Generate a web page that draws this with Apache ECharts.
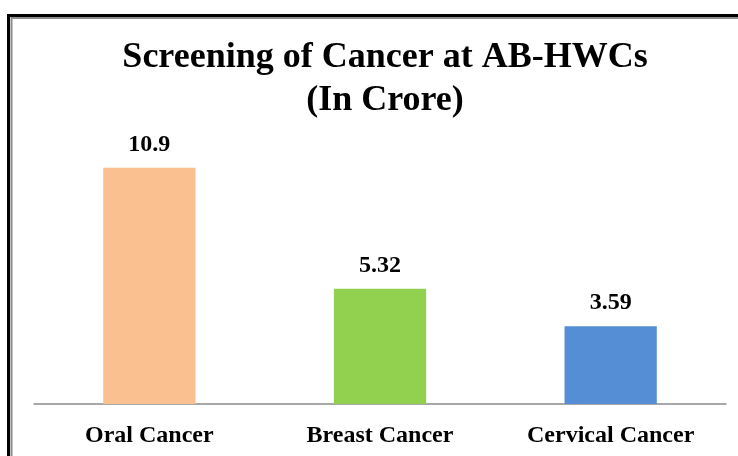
<!DOCTYPE html>
<html><head><meta charset="utf-8">
<script src="https://cdn.jsdelivr.net/npm/echarts@6/dist/echarts.min.js"></script>
<style>html,body{margin:0;padding:0;background:#fff}#c{width:738px;height:456px}</style>
</head><body><div id="c"></div>
<script>
const categories = ["Oral Cancer", "Breast Cancer", "Cervical Cancer"];
const values = [10.9, 5.32, 3.59];
const barColors = ["#FAC090", "#92D050", "#558ED5"];
const titleLines = ["Screening of Cancer at AB-HWCs", "(In Crore)"];

const chart = echarts.init(document.getElementById('c'), null, {renderer: 'canvas'});
const serif = '"Liberation Serif", "Times New Roman", serif';
chart.setOption({
  animation: false,
  backgroundColor: '#fff',
  title: {
    text: titleLines.join('\n'),
    left: 380, top: 31, textAlign: 'center',
    textStyle: {fontFamily: serif, fontWeight: 'bold', fontSize: 36, lineHeight: 43, color: '#000'}
  },
  graphic: [
    {type: 'rect', shape: {x: 8.5, y: 15.5, width: 760, height: 480}, style: {fill: 'none', stroke: '#000', lineWidth: 3}},
    {type: 'rect', shape: {x: 11.5, y: 18, width: 760, height: 480}, style: {fill: 'none', stroke: '#8c8c8c', lineWidth: 2}}
  ],
  grid: {left: 34, right: 12, top: 144, bottom: 52},
  xAxis: {
    type: 'category', data: categories,
    axisLine: {lineStyle: {color: '#8c8c8c', width: 1.5}},
    axisTick: {show: false},
    axisLabel: {fontFamily: serif, fontWeight: 'bold', fontSize: 24, color: '#000', margin: 20}
  },
  yAxis: {type: 'value', min: 0, max: 12, show: false, splitLine: {show: false}},
  series: [{
    type: 'bar', barWidth: '40%',
    data: values.map((v, i) => ({value: v, itemStyle: {color: barColors[i]}})),
    label: {show: true, position: 'top', distance: 11, fontFamily: serif, fontWeight: 'bold', fontSize: 24, color: '#000'}
  }]
});
</script></body></html>
